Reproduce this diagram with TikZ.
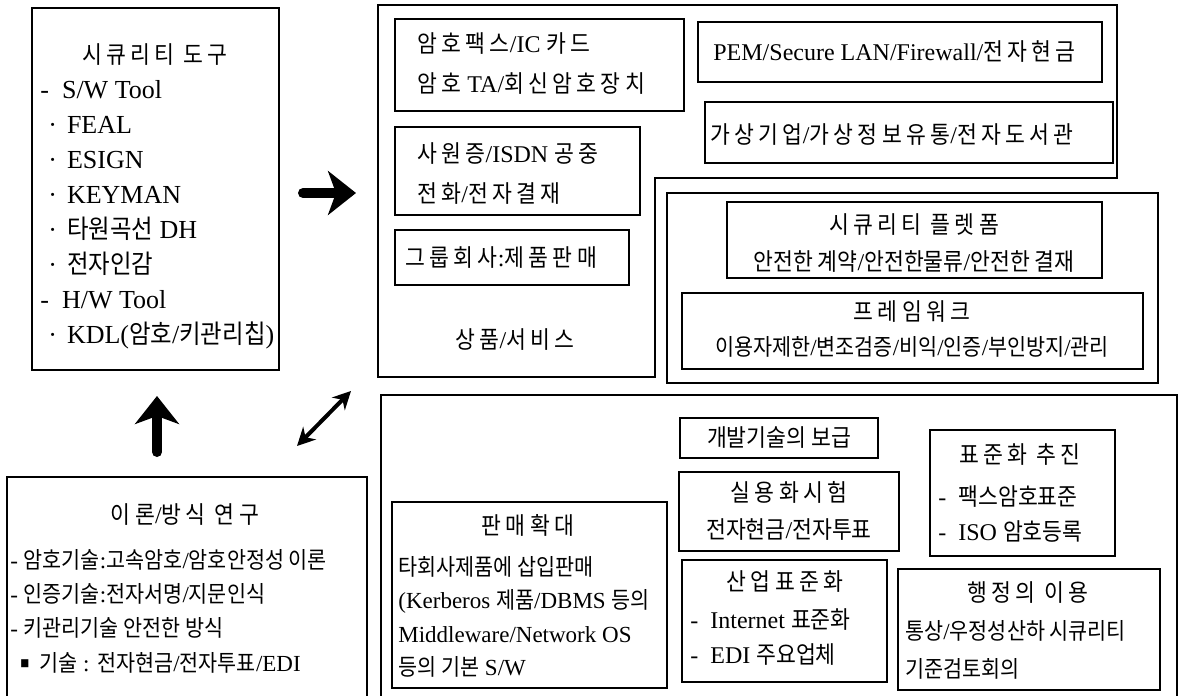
\documentclass[tikz,border=0pt]{standalone}
\usepackage{fontspec}
\setmainfont{Liberation Serif}
\newfontfamily\krfont{Noto Sans CJK KR}[Scale=1.0,FakeStretch=0.9]
\newfontfamily\krwide{Noto Sans CJK KR}[Scale=1.0,FakeStretch=0.9,LetterSpace=18]
\newcommand{\ko}[1]{{\krfont #1}}
\newcommand{\kw}[1]{{\krwide #1}}
\newcommand{\tooldot}{\hspace*{4pt}·\hspace{5pt}}
\usetikzlibrary{arrows.meta,fit,positioning}

\begin{document}
\begin{tikzpicture}
[x=0.5pt, y=-0.5pt, font=\fontsize{12}{17.5}\selectfont,
% STYLES
% a panel is spanned over its two corners with fit
panel/.style={draw, line width=0.6pt, inner sep=0pt},
outer/.style={draw, line width=0.6pt},
heading/.style={inner sep=0pt, anchor=center},
body/.style={inner sep=0pt, anchor=west, align=left},
% the bold arrows between the blocks
bigarrow/.style={line width=5pt, line cap=round, -{Stealth[length=14pt,width=22pt,inset=4pt]}},
twoway/.style={line width=2pt, {Stealth[length=9pt,width=9pt]}-{Stealth[length=9pt,width=9pt]}}]

\useasboundingbox (0,0) rectangle (1185,696);
\clip (0,0) rectangle (1185,696);

% Tools
\node[panel, fit={(32,8) (279,370)}] (tools) {};
\node[heading] (tools-title) at (155,55) {\kw{시큐리티 도구}};
\node[body, font=\fontsize{13}{17.5}\selectfont] (tools-list) at (40,215) {-~~S/W Tool\\
\tooldot FEAL\\
\tooldot ESIGN\\
\tooldot KEYMAN\\
\tooldot \ko{타원곡선} DH\\
\tooldot \ko{전자인감}\\
-~~H/W Tool\\
\tooldot KDL(\ko{암호}/\ko{키관리칩})};

% Research
\node[panel, fit={(7,477) (367,720)}] (research) {};
\node[heading] (research-title) at (185,515) {\kw{이론}/\kw{방식 연구}};
\node[body, font=\fontsize{11.5}{17.2}\selectfont] (research-list) at (10,611) {- \ko{암호기술}:\ko{고속암호}/\ko{암호안정성 이론}\\
- \ko{인증기술}:\ko{전자서명}/\ko{지문인식}\\
- \ko{키관리기술 안전한 방식}\\
\hspace*{5pt}\raisebox{2pt}{\krfont\tiny ■}\hspace{5pt}\ko{기술} : \ko{전자현금}/\ko{전자투표}/EDI};

% Products and services
\draw[outer] (378,5) -| (1117,178) -| (655,377) -- (378,377) -- cycle;
\node[panel, fit={(395,19) (684,111)}] (crypto) {};
\node[body, font=\fontsize{12}{20}\selectfont] (crypto-text) at (417,64) {\kw{암호팩스}/IC \kw{카드}\\\kw{암호} TA/\kw{회신암호장치}};
\node[panel, fit={(395,127) (640,215)}] (card) {};
\node[body, font=\fontsize{12}{20}\selectfont] (card-text) at (417,174) {\kw{사원증}/ISDN \kw{공중}\\\kw{전화}/\kw{전자결재}};
\node[panel, fit={(395,230) (629,285)}] (group) {};
\node[body] (group-text) at (405,258) {\kw{그룹회사}:\kw{제품판매}};
\node[heading] (products) at (515,340) {\kw{상품}/\kw{서비스}};
\node[panel, fit={(698,22) (1102,82)}] (pem) {};
\node[body] (pem-text) at (713,52) {PEM/Secure LAN/Firewall/\kw{전자현금}};
\node[panel, fit={(705,102) (1113,163)}] (virtual) {};
\node[body] (virtual-text) at (710,135) {\kw{가상기업}/\kw{가상정보유통}/\kw{전자도서관}};

% Platform
\node[panel, fit={(667,193) (1158,383)}] (platforms) {};
\node[panel, fit={(727,202) (1102,278)}] (platform) {};
\node[heading] (platform-title) at (914,225) {\kw{시큐리티 플렛폼}};
\node[heading] (platform-text) at (914,262) {\ko{안전한 계약}/\ko{안전한물류}/\ko{안전한 결재}};
\node[panel, fit={(682,293) (1143,369)}] (framework) {};
\node[heading] (framework-title) at (912,312) {\kw{프레임워크}};
\node[heading, font=\fontsize{11.5}{17}\selectfont] (framework-text) at (912,347) {\ko{이용자제한}/\ko{변조검증}/\ko{비익}/\ko{인증}/\ko{부인방지}/\ko{관리}};

% Rollout
\node[panel, fit={(381,395) (1177,720)}] (rollout) {};
\node[panel, fit={(392,502) (667,688)}] (sales) {};
\node[heading] (sales-title) at (528,525) {\kw{판매확대}};
\node[body, font=\fontsize{11.5}{16.7}\selectfont] (sales-text) at (398,617) {\ko{타회사제품에 삽입판매}\\(Kerberos \ko{제품}/DBMS \ko{등의}\\Middleware/Network OS\\\ko{등의 기본} S/W};
\node[panel, fit={(680,418) (878,458)}] (spread) {};
\node[heading] (spread-text) at (779,438) {\ko{개발기술의 보급}};
\node[panel, fit={(679,472) (899,551)}] (trial) {};
\node[heading] (trial-title) at (789,492) {\kw{실용화시험}};
\node[heading] (trial-text) at (789,530) {\ko{전자현금}/\ko{전자투표}};
\node[panel, fit={(682,560) (887,682)}] (industry) {};
\node[heading] (industry-title) at (785,582) {\kw{산업표준화}};
\node[body] (industry-list) at (690,637) {-~~Internet \ko{표준화}\\-~~EDI \ko{주요업체}};
\node[panel, fit={(930,430) (1115,556)}] (standard) {};
\node[heading] (standard-title) at (1020,455) {\kw{표준화 추진}};
\node[body] (standard-list) at (938,514) {-~~\ko{팩스암호표준}\\-~~ISO \ko{암호등록}};
\node[panel, fit={(898,569) (1160,690)}] (admin) {};
\node[heading] (admin-title) at (1028,593) {\kw{행정의 이용}};
\node[body, font=\fontsize{11.5}{19}\selectfont] (admin-text) at (905,650) {\ko{통상}/\ko{우정성산하 시큐리티}\\\ko{기준검토회의}};

%%%%%%%%%%%%%%%%

\coordinate (right-tail) at (303,193);
\coordinate (right-tip) at (356,193);
\coordinate (up-tail) at (157,452);
\coordinate (up-tip) at (157,396);
\coordinate (both-low) at (297,446);
\coordinate (both-high) at (351,391);

\draw[bigarrow] (right-tail) -- (right-tip);
\draw[bigarrow] (up-tail) -- (up-tip);
\draw[twoway] (both-low) -- (both-high);

\end{tikzpicture}
\end{document}
